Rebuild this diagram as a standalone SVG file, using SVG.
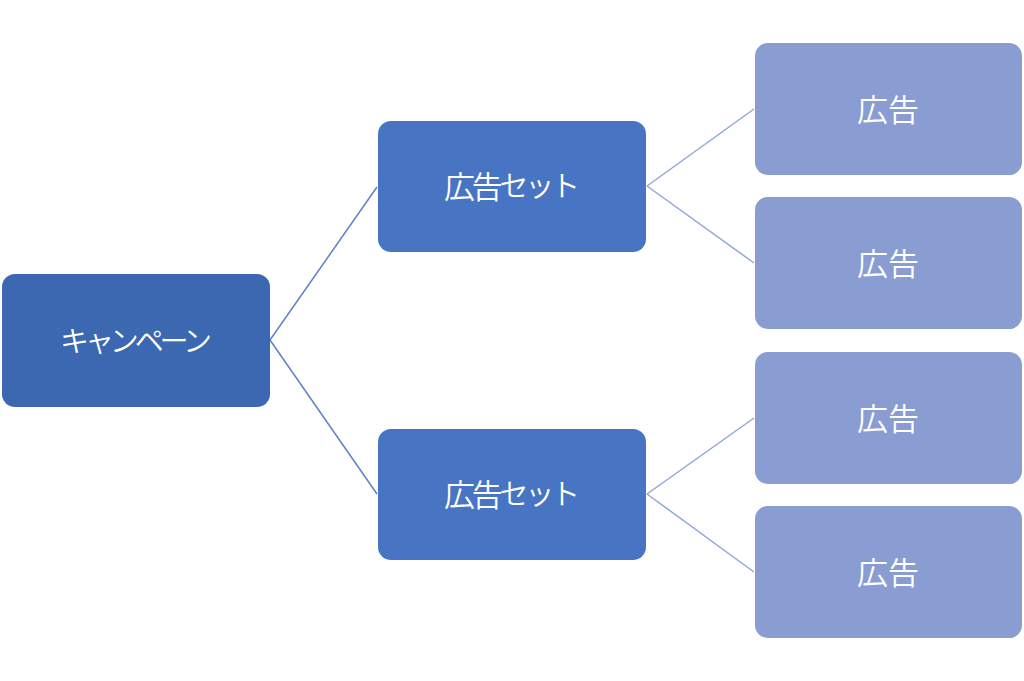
<svg xmlns="http://www.w3.org/2000/svg" width="1024" height="681" viewBox="0 0 1024 681">
<style>
.t{font-family:"Noto Sans CJK JP","Noto Sans",sans-serif;font-size:31px;font-weight:350;fill:#ffffff;text-anchor:middle;dominant-baseline:central}
.k{font-size:29px}
.c1{fill:#3C67B1}
.c2{fill:#4775C4}
.c3{fill:#8A9DD2}
.l1{stroke:#5B82C9;stroke-width:1.5;fill:none}
.l2{stroke:#93A6D8;stroke-width:1.5;fill:none}
</style>
<rect width="1024" height="681" fill="#ffffff"/>
<g id="connectors">
<path class="l1" d="M270 340 L377 187"/>
<path class="l1" d="M270 340 L377 494"/>
<path class="l2" d="M647 186 L754 109"/>
<path class="l2" d="M647 186 L754 263"/>
<path class="l2" d="M647 494 L754 418"/>
<path class="l2" d="M647 494 L754 572"/>
</g>
<g id="campaign"><rect class="c1" x="2" y="274" width="268" height="133" rx="13"/><text class="t k" x="136" y="339" textLength="152" lengthAdjust="spacing">キャンペーン</text></g>
<g id="adset1"><rect class="c2" x="378" y="121" width="268" height="131" rx="13"/><text class="t" x="512" y="184" textLength="136" lengthAdjust="spacing">広告<tspan class="k">セット</tspan></text></g>
<g id="adset2"><rect class="c2" x="378" y="429" width="268" height="131" rx="13"/><text class="t" x="512" y="492" textLength="136" lengthAdjust="spacing">広告<tspan class="k">セット</tspan></text></g>
<g id="ad1"><rect class="c3" x="755" y="43" width="267" height="132" rx="13"/><text class="t" x="888" y="107">広告</text></g>
<g id="ad2"><rect class="c3" x="755" y="197" width="267" height="132" rx="13"/><text class="t" x="888" y="261">広告</text></g>
<g id="ad3"><rect class="c3" x="755" y="352" width="267" height="132" rx="13"/><text class="t" x="888" y="416">広告</text></g>
<g id="ad4"><rect class="c3" x="755" y="506" width="267" height="132" rx="13"/><text class="t" x="888" y="570">広告</text></g>
</svg>
